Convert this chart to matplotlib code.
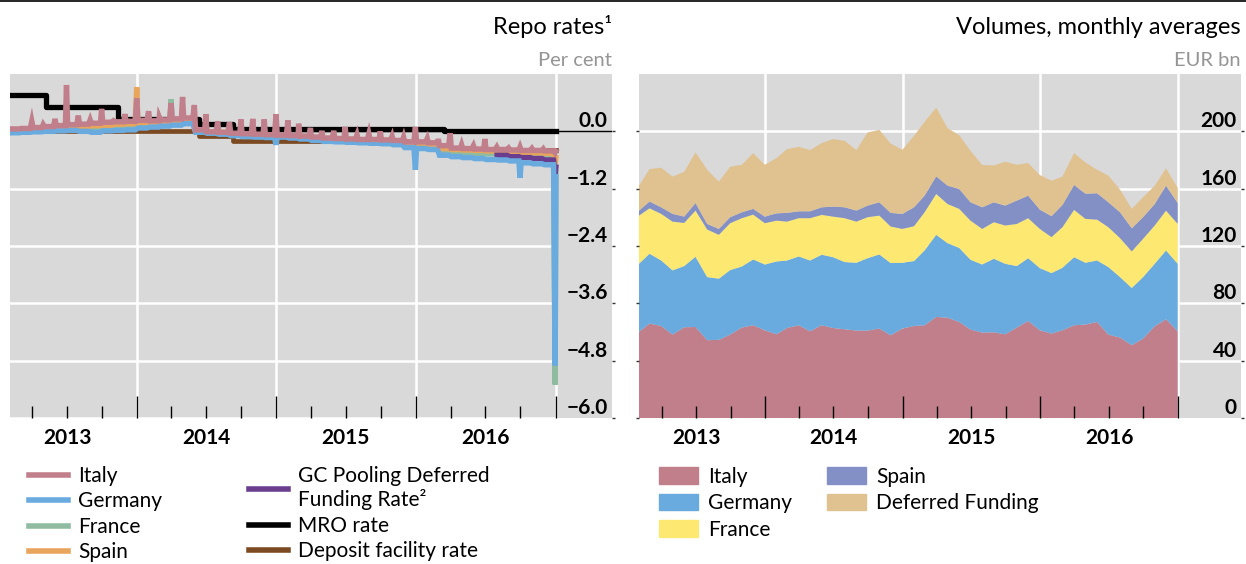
import numpy as np
import pandas as pd
import matplotlib
matplotlib.use('Agg')
import matplotlib.pyplot as plt
import matplotlib.dates as mdates
import matplotlib.transforms as mtransforms
from matplotlib.lines import Line2D
from matplotlib.patches import Patch

plt.rcParams['font.family'] = ['Lato', 'DejaVu Sans']

# ---------------- left panel data: repo rates, per cent ----------------
rate_months = pd.date_range('2013-02-01', '2016-12-01', freq='MS')

# typical level of each month (Feb 2013 .. Dec 2016)
italy_base = [0.05, 0.06, 0.08, 0.10, 0.12, 0.14, 0.15, 0.17, 0.19, 0.20, 0.21,
              0.23, 0.22, 0.24, 0.26, 0.28, 0.03, -0.01, -0.02, -0.04, -0.05, -0.06, -0.07,
              -0.08, -0.09, -0.10, -0.12, -0.14, -0.15, -0.16, -0.17, -0.17, -0.18, -0.19, -0.22,
              -0.22, -0.24, -0.30, -0.35, -0.36, -0.37, -0.38, -0.38, -0.39, -0.40, -0.40, -0.41]
germany_base = [-0.03, -0.02, -0.01, 0.00, 0.01, 0.02, 0.00, -0.02, 0.01, 0.02, 0.03,
                0.07, 0.09, 0.11, 0.13, 0.16, -0.02, -0.04, -0.06, -0.09, -0.11, -0.12, -0.13,
                -0.12, -0.14, -0.16, -0.19, -0.21, -0.22, -0.23, -0.24, -0.25, -0.26, -0.28, -0.34,
                -0.36, -0.38, -0.50, -0.53, -0.55, -0.57, -0.59, -0.60, -0.62, -0.66, -0.68, -0.70]
france_base = [0.00, 0.01, 0.02, 0.03, 0.04, 0.05, 0.04, 0.03, 0.05, 0.06, 0.08,
               0.11, 0.12, 0.15, 0.17, 0.19, 0.00, -0.02, -0.04, -0.07, -0.08, -0.09, -0.10,
               -0.10, -0.11, -0.13, -0.16, -0.17, -0.18, -0.19, -0.20, -0.21, -0.22, -0.23, -0.28,
               -0.30, -0.31, -0.42, -0.44, -0.45, -0.46, -0.47, -0.49, -0.50, -0.52, -0.53, -0.55]
spain_base = [0.03, 0.04, 0.05, 0.07, 0.08, 0.10, 0.10, 0.12, 0.13, 0.15, 0.16,
              0.18, 0.18, 0.20, 0.22, 0.24, 0.02, -0.01, -0.02, -0.05, -0.06, -0.07, -0.08,
              -0.09, -0.10, -0.11, -0.13, -0.15, -0.16, -0.17, -0.18, -0.18, -0.19, -0.20, -0.24,
              -0.25, -0.27, -0.36, -0.38, -0.39, -0.40, -0.41, -0.42, -0.43, -0.44, -0.45, -0.46]
gc_months = pd.date_range('2016-08-01', '2016-12-01', freq='MS')
gc_base = [-0.50, -0.53, -0.55, -0.57, -0.60]

# month-end peaks
italy_spikes = {'2013-03': 0.21, '2013-04': 0.14, '2013-05': 0.26, '2013-06': 0.97,
                '2013-07': 0.33, '2013-08': 0.24, '2013-09': 0.47, '2013-10': 0.22,
                '2013-11': 0.36, '2013-12': 0.69, '2014-01': 0.42, '2014-02': 0.30,
                '2014-03': 0.59, '2014-04': 0.72, '2014-05': 0.55, '2014-06': 0.36,
                '2014-07': 0.21, '2014-08': 0.19, '2014-09': 0.25, '2014-10': 0.26,
                '2014-11': 0.25, '2014-12': 0.36, '2015-01': 0.23, '2015-02': 0.16,
                '2015-03': 0.07, '2015-04': 0.01, '2015-05': 0.01, '2015-06': 0.09,
                '2015-07': -0.07, '2015-08': -0.05, '2015-09': 0.00, '2015-10': -0.10,
                '2015-11': -0.12, '2015-12': 0.09, '2016-01': -0.15, '2016-02': -0.16,
                '2016-03': -0.04, '2016-04': -0.28, '2016-05': -0.30, '2016-06': -0.16,
                '2016-07': -0.33, '2016-08': -0.35, '2016-09': -0.33, '2016-10': -0.36,
                '2016-11': -0.37, '2016-12': -0.45}
germany_spikes = {'2014-12': -0.28, '2015-12': -0.80, '2016-09': -0.97, '2016-12': -4.90}
france_spikes = {'2013-10': 0.25, '2014-03': 0.67, '2016-12': -5.30}
spain_spikes = {'2013-12': 0.92, '2016-12': -0.75}
gc_spikes = {'2016-12': -0.90}

# first trading days of 2017
end_values = {'Italy': -0.42, 'Germany': -0.95, 'France': -0.85, 'Spain': -0.55, 'GC': -0.75}

mro_dates = pd.to_datetime(['2013-02-01', '2013-05-08', '2013-11-13', '2014-06-11',
                            '2014-09-10', '2016-03-16', '2017-01-02'])
mro_rate = [0.75, 0.50, 0.25, 0.15, 0.05, 0.00, 0.00]
dfr_dates = pd.to_datetime(['2013-02-01', '2014-06-11', '2014-09-10', '2015-12-09',
                            '2016-03-16', '2017-01-02'])
dfr_rate = [0.00, -0.10, -0.20, -0.30, -0.40, -0.40]

rate_ticks = [0.0, -1.2, -2.4, -3.6, -4.8, -6.0]

# ---------------- right panel data: volumes, EUR bn ----------------
vol_dates = pd.date_range('2013-01-31', '2016-12-31', freq='ME')
italy_vol = [60.1, 65.9, 64.2, 58.2, 63.3, 63.5, 54.3, 54.5, 58.2, 63.1, 64.7, 61.2,
             58.4, 62.8, 64.7, 60.5, 64.7, 62.8, 61.9, 61.0, 61.0, 62.4, 57.7, 62.4,
             64.2, 64.7, 70.5, 70.0, 67.0, 61.7, 59.6, 59.8, 58.4, 63.1, 67.7, 61.2,
             58.9, 61.2, 64.7, 65.2, 67.0, 58.2, 56.1, 50.8, 55.4, 64.0, 68.9, 60.5]
germany_vol = [47.5, 48.7, 45.7, 44.8, 42.7, 49.0, 44.0, 42.7, 45.0, 42.6, 45.9, 45.9,
               50.8, 47.1, 48.0, 49.4, 49.2, 49.4, 46.9, 47.3, 50.5, 51.7, 50.4, 45.9,
               45.3, 52.2, 57.3, 52.0, 51.7, 48.7, 47.5, 51.3, 49.2, 42.9, 43.8, 43.4,
               42.2, 43.6, 47.5, 43.1, 42.9, 47.1, 42.2, 39.9, 42.9, 43.6, 48.0, 47.1]
france_vol = [33.6, 31.7, 32.5, 34.0, 30.1, 32.2, 33.2, 30.6, 32.7, 33.7, 31.3, 28.8,
              28.5, 27.1, 26.7, 29.5, 27.8, 28.3, 30.6, 28.7, 28.6, 27.1, 25.5, 23.6,
              24.3, 26.6, 28.5, 27.3, 27.2, 27.3, 24.8, 25.5, 26.7, 29.4, 27.9, 27.3,
              25.1, 28.3, 33.0, 30.6, 28.5, 27.8, 27.2, 25.5, 26.7, 26.7, 27.8, 27.8]
spain_vol = [3.5, 4.7, 4.6, 5.4, 4.4, 5.3, 3.9, 4.1, 4.2, 4.1, 4.0, 4.6,
             5.1, 6.1, 4.8, 4.8, 5.3, 7.0, 7.6, 7.7, 8.1, 9.3, 9.5, 10.5,
             13.2, 11.6, 12.3, 12.8, 13.9, 12.8, 15.1, 13.9, 13.9, 16.3, 15.7, 13.5,
             14.6, 15.5, 17.4, 17.6, 18.4, 17.4, 18.0, 16.2, 15.1, 15.0, 17.4, 14.6]
deferred_vol = [17.4, 22.7, 27.6, 26.0, 31.3, 35.3, 37.8, 33.0, 35.2, 33.2, 38.9, 36.2,
                38.5, 44.5, 45.0, 42.7, 44.8, 47.1, 46.4, 42.2, 51.0, 50.5, 48.4, 44.7,
                49.9, 51.5, 48.0, 40.1, 37.5, 35.9, 29.5, 25.7, 30.6, 25.0, 22.8, 24.1,
                24.8, 19.8, 22.2, 21.8, 16.4, 18.6, 15.8, 13.5, 13.9, 12.8, 12.1, 10.5]
vol_ticks = [0, 40, 80, 120, 160, 200]

years = [2013, 2014, 2015, 2016]

# colours
c_italy = '#c17f8c'
c_germany = '#6aabdf'
c_france = '#8fbba0'
c_spain = '#e9a55b'
c_gc = '#6a3d8f'
c_brown = '#7b4a22'
c_yellow = '#fde972'
c_spain_area = '#8290c6'
c_deferred = '#e0c291'
bg = '#d9d9d9'


def build_series(months, base, spikes, end_val):
    xs = [months[0]]
    ys = [base[0]]
    for m, b in zip(months, base):
        xs += [m + pd.Timedelta(days=2), m + pd.Timedelta(days=26)]
        ys += [b, b]
        key = m.strftime('%Y-%m')
        if key in spikes:
            xs.append(m + pd.offsets.MonthEnd(0))
            ys.append(spikes[key])
    xs.append(pd.Timestamp('2017-01-02'))
    ys.append(end_val)
    return xs, ys


def style_axis(ax, x0, x1, ylim, ticks, labels, grid_to_end):
    ax.set_facecolor(bg)
    ax.set_xlim(x0, x1)
    ax.set_ylim(*ylim)
    for s in ax.spines.values():
        s.set_visible(False)
    end = mdates.date2num(pd.Timestamp('2017-01-01'))
    for t in ticks[1:]:
        if grid_to_end:
            ax.plot([mdates.date2num(x0), end], [t, t], color='white', lw=1.8, zorder=0.5)
        else:
            ax.axhline(t, color='white', lw=1.8, zorder=0.5)
    for y in [2014, 2015, 2016, 2017]:
        ax.axvline(pd.Timestamp(f'{y}-01-01'), color='white', lw=1.8, zorder=0.5)
    major = [pd.Timestamp(f'{y}-01-01') for y in [2014, 2015, 2016, 2017]]
    minor = [d for d in pd.date_range('2013-04-01', '2016-12-31', freq='QS')
             if d.month != 1]
    ax.set_xticks(major)
    ax.set_xticks(minor, minor=True)
    ax.tick_params(axis='x', which='major', direction='in', length=16, width=1,
                   color='black', labelbottom=False)
    ax.tick_params(axis='x', which='minor', direction='in', length=8.5, width=1,
                   color='black')
    ax.set_yticks(ticks)
    ax.tick_params(axis='y', direction='out', length=2, width=1, color='#333333',
                   labelleft=False, right=True, left=not grid_to_end)
    tr = mtransforms.blended_transform_factory(ax.transAxes, ax.transData)
    for t, lab in zip(ticks, labels):
        ax.text(0.993, t, lab, transform=tr, ha='right', va='bottom',
                fontsize=15, fontweight='bold')
    trx = mtransforms.blended_transform_factory(ax.transData, ax.transAxes)
    for y in years:
        ax.text(pd.Timestamp(f'{y}-07-02'), -0.058, str(y), transform=trx,
                ha='center', va='center', fontsize=15, fontweight='bold')


fig = plt.figure(figsize=(12.46, 5.64), dpi=100)
W, H = 1246, 564
ax1 = fig.add_axes([10 / W, (H - 418) / H, 602 / W, 344 / H])
ax2 = fig.add_axes([639 / W, (H - 418) / H, 602 / W, 344 / H])

# ---- left: repo rates ----
style_axis(ax1, pd.Timestamp('2013-02-02'), pd.Timestamp('2017-05-29'), (-6.0, 1.2),
           rate_ticks, ['0.0', '\u22121.2', '\u22122.4', '\u22123.6', '\u22124.8', '\u22126.0'],
           grid_to_end=True)
ax1.axhline(0, color='black', lw=1, zorder=0.8)
ax1.step(dfr_dates, dfr_rate, where='post', color=c_brown, lw=3.4, zorder=1)
ax1.step(mro_dates, mro_rate, where='post', color='black', lw=3.8, zorder=1.1)
series = [
    ('France', rate_months, france_base, france_spikes, c_france),
    ('Spain', rate_months, spain_base, spain_spikes, c_spain),
    ('GC', gc_months, gc_base, gc_spikes, c_gc),
    ('Germany', rate_months, germany_base, germany_spikes, c_germany),
    ('Italy', rate_months, italy_base, italy_spikes, c_italy),
]
for i, (name, months, base, spikes, col) in enumerate(series):
    xs, ys = build_series(months, base, spikes, end_values[name])
    ax1.plot(xs, ys, color=col, lw=3.9, zorder=2 + i, solid_joinstyle='miter')

# ---- right: volumes ----
style_axis(ax2, pd.Timestamp('2013-01-31'), pd.Timestamp('2017-06-17'), (0, 240),
           vol_ticks, [str(v) for v in vol_ticks], grid_to_end=False)
ax2.stackplot(vol_dates, italy_vol, germany_vol, france_vol, spain_vol, deferred_vol,
              colors=[c_italy, c_germany, c_yellow, c_spain_area, c_deferred],
              lw=0, zorder=1)
for a in (ax1, ax2):
    for t in a.xaxis.get_ticklines(minor=False) + a.xaxis.get_ticklines(minor=True):
        t.set_zorder(10)

# titles
fig.text(612 / W, 1 - 27 / H, 'Repo rates\u00b9', ha='right', va='center', fontsize=17)
fig.text(612 / W, 1 - 60 / H, 'Per cent', ha='right', va='center', fontsize=14.5,
         color='#959595')
fig.text(1241 / W, 1 - 27 / H, 'Volumes, monthly averages', ha='right', va='center',
         fontsize=17)
fig.text(1241 / W, 1 - 60 / H, 'EUR bn', ha='right', va='center', fontsize=14.5,
         color='#959595')
fig.add_artist(Line2D([0, 1], [0.999, 0.999], color='black', lw=1.2,
                      transform=fig.transFigure))

# legends
leg_kw = dict(frameon=False, fontsize=15, handlelength=1.85, handletextpad=0.5,
              labelspacing=0.26, borderpad=0, borderaxespad=0, loc='upper left')
h1 = [Line2D([], [], color=c, lw=4) for c in [c_italy, c_germany, c_france, c_spain]]
fig.legend(h1, ['Italy', 'Germany', 'France', 'Spain'],
           bbox_to_anchor=(29 / W, 1 - 466 / H), **leg_kw)
h2 = [Line2D([], [], color=c, lw=4) for c in [c_gc, 'black', c_brown]]
fig.legend(h2, ['GC Pooling Deferred\nFunding Rate\u00b2', 'MRO rate', 'Deposit facility rate'],
           bbox_to_anchor=(249 / W, 1 - 466 / H), **leg_kw)

patch_kw = dict(leg_kw, handleheight=0.85, labelspacing=0.3)
fig.legend([Patch(color=c) for c in [c_italy, c_germany, c_yellow]],
           ['Italy', 'Germany', 'France'],
           bbox_to_anchor=(659 / W, 1 - 467 / H), **patch_kw)
fig.legend([Patch(color=c) for c in [c_spain_area, c_deferred]],
           ['Spain', 'Deferred Funding'],
           bbox_to_anchor=(827 / W, 1 - 467 / H), **patch_kw)

fig.savefig('out.png', dpi=100)
